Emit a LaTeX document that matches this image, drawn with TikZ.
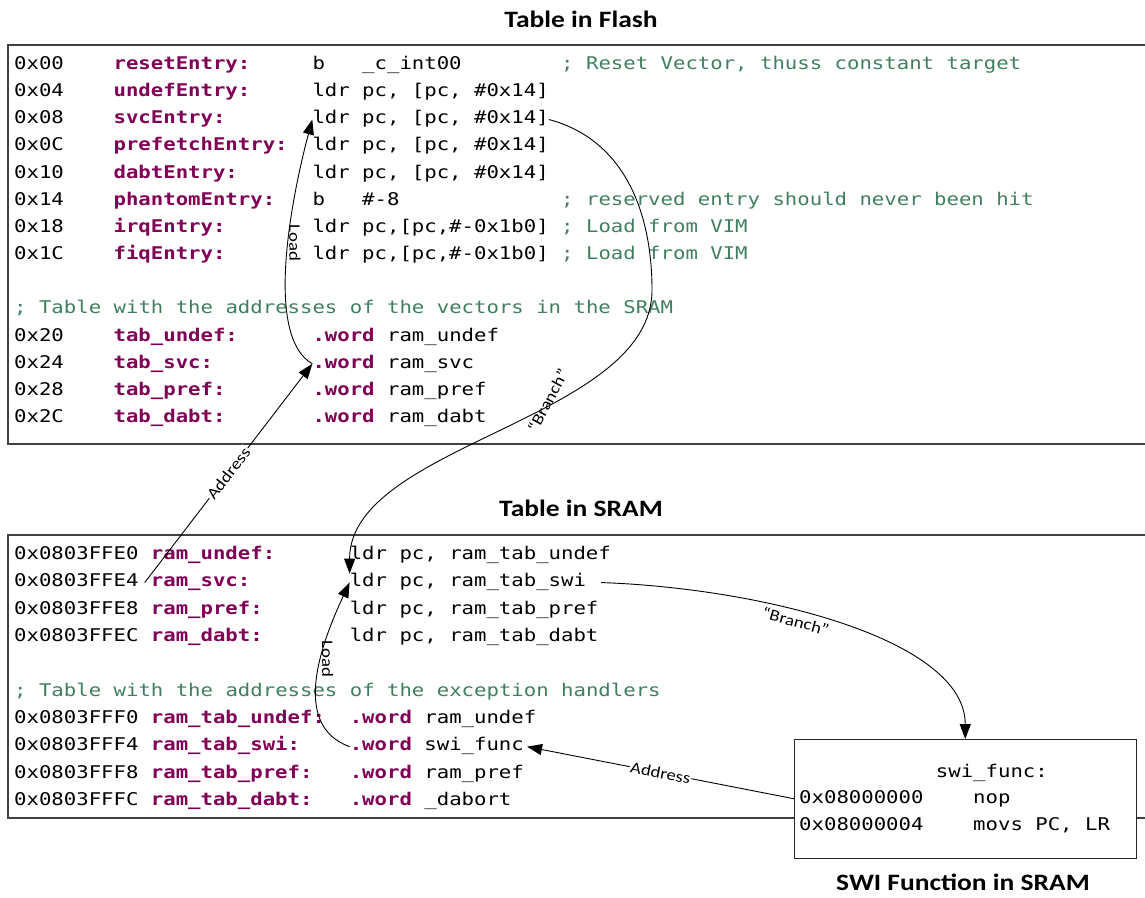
\documentclass[tikz,border=0pt]{standalone}
\usepackage{fontspec}
\usetikzlibrary{arrows.meta}
\newfontfamily\codefont[FakeStretch=1.18]{DejaVu Sans Mono}
\newfontfamily\labelfont[FakeStretch=1.17]{Carlito}
\definecolor{kwcol}{RGB}{127,0,85}
\definecolor{cmcol}{RGB}{63,127,95}
\newcommand{\kw}[1]{\textcolor{kwcol}{\bfseries #1}}

\begin{document}
\begin{tikzpicture}[x=1pt, y=1pt,
    frame/.style={draw=black!75, line width=1.1pt, inner sep=0pt},
    code/.style={anchor=base west, inner sep=0pt, text height=13pt, text depth=4.4pt,
      font=\codefont\frenchspacing\fontsize{17.5}{20}\selectfont},
    lbl/.style={code, text=kwcol, font=\codefont\frenchspacing\fontsize{17.5}{20}\selectfont\bfseries},
    cmt/.style={code, text=cmcol},
    title/.style={font=\labelfont\fontsize{23.5}{28}\selectfont\bfseries},
    conn/.style={line width=0.9pt, -{Triangle[length=15pt,width=11pt]}},
    lab/.style={font=\labelfont\fontsize{16}{19}\selectfont, inner sep=1pt}
  ]
  \useasboundingbox (0,0) rectangle (1145,-897);

  \node[frame, minimum width=1144pt, minimum height=399pt] (flash) at (580,-244.5) {};
  \node[frame, minimum width=1144pt, minimum height=283pt] (sram) at (580,-676.5) {};
  \node[title] (tflash) at (581,-19) {Table in Flash};
  \node[title] (tsram) at (581,-508) {Table in SRAM};
  \node[title] (tswi) at (963,-882) {SWI Function in SRAM};

  % table in flash
  \foreach \a/\l/\i [count=\k from 0] in {
      0x00/resetEntry:/{b~~~\_c\_int00},
      0x04/undefEntry:/{ldr pc, [pc, \#0x14]},
      0x08/svcEntry:/{ldr pc, [pc, \#0x14]},
      0x0C/prefetchEntry:/{ldr pc, [pc, \#0x14]},
      0x10/dabtEntry:/{ldr pc, [pc, \#0x14]},
      0x14/phantomEntry:/{b~~~\#-8},
      0x18/irqEntry:/{ldr pc,[pc,\#-0x1b0]},
      0x1C/fiqEntry:/{ldr pc,[pc,\#-0x1b0]}} {
    \node[code] (fa\k) at (14,{-69.5-27.15*\k}) {\a};
    \node[lbl] (fl\k) at (113.4,{-69.5-27.15*\k}) {\l};
    \node[code] (fi\k) at (312.3,{-69.5-27.15*\k}) {\i};
  }
  \foreach \k/\c in {0/{; Reset Vector, thuss constant target},
      5/{; reserved entry should never been hit},
      6/{; Load from VIM}, 7/{; Load from VIM}} {
    \node[cmt] (fc\k) at (561,{-69.5-27.15*\k}) {\c};
  }
  \node[cmt] (fc9) at (14,{-69.5-27.15*9}) {; Table with the addresses of the vectors in the SRAM};
  \foreach \a/\l/\i [count=\k from 10] in {
      0x20/tab\_undef:/{\kw{.word} ram\_undef},
      0x24/tab\_svc:/{\kw{.word} ram\_svc},
      0x28/tab\_pref:/{\kw{.word} ram\_pref},
      0x2C/tab\_dabt:/{\kw{.word} ram\_dabt}} {
    \node[code] (fa\k) at (14,{-69.5-27.15*\k}) {\a};
    \node[lbl] (fl\k) at (113.4,{-69.5-27.15*\k}) {\l};
    \node[code] (fi\k) at (312.3,{-69.5-27.15*\k}) {\i};
  }

  % table in sram
  \foreach \a/\l/\i [count=\k from 0] in {
      0x0803FFE0/ram\_undef:/{ldr pc, ram\_tab\_undef},
      0x0803FFE4/ram\_svc:/{ldr pc, ram\_tab\_swi},
      0x0803FFE8/ram\_pref:/{ldr pc, ram\_tab\_pref},
      0x0803FFEC/ram\_dabt:/{ldr pc, ram\_tab\_dabt}} {
    \node[code] (sa\k) at (14,{-559.5-27.35*\k}) {\a};
    \node[lbl] (sl\k) at (150.7,{-559.5-27.35*\k}) {\l};
    \node[code] (si\k) at (349.6,{-559.5-27.35*\k}) {\i};
  }
  \node[cmt] (sc5) at (14,{-559.5-27.35*5}) {; Table with the addresses of the exception handlers};
  \foreach \a/\l/\i [count=\k from 6] in {
      0x0803FFF0/ram\_tab\_undef:/{\kw{.word} ram\_undef},
      0x0803FFF4/ram\_tab\_swi:/{\kw{.word} swi\_func},
      0x0803FFF8/ram\_tab\_pref:/{\kw{.word} ram\_pref},
      0x0803FFFC/ram\_tab\_dabt:/{\kw{.word} \_dabort}} {
    \node[code] (sa\k) at (14,{-559.5-27.35*\k}) {\a};
    \node[lbl] (sl\k) at (150.7,{-559.5-27.35*\k}) {\l};
    \node[code] (si\k) at (349.6,{-559.5-27.35*\k}) {\i};
  }

  % swi function
  \node[draw=black!85, line width=0.9pt, fill=white, minimum width=341.5pt,
    minimum height=118.5pt, inner sep=0pt] (swi) at (965.25,-798.75) {};
  \node[code] (wf) at (935.7,-777) {swi\_func:};
  \node[code] (wa1) at (799,-803.7) {0x08000000};
  \node[code] (wi1) at (973,-803.7) {nop};
  \node[code] (wa2) at (799,-830.4) {0x08000004};
  \node[code] (wi2) at (973,-830.4) {movs PC, LR};

  \coordinate (bend) at (652,-290);
  \draw[conn] (fi11.west) to[out=150, in=-105, out distance=60pt, in distance=60pt]
    node[pos=0.53, rotate=-90, anchor=south, lab] {Load} (fi2.west);
  \draw[conn] ([xshift=-6pt]sl1.west) -- node[lab, sloped, fill=white] {Address} (fi11.west);
  \draw[conn] (fi2.east) to[out=-15, in=90] (bend) to[out=-90, in=90, looseness=0.8]
    node[pos=0.38, rotate=62, anchor=south, lab] {“Branch”} (si1.north west);

  \draw[conn] (si7.west) to[out=160, in=-115, out distance=64pt, in distance=64pt]
    node[pos=0.6, rotate=-90, anchor=south, lab] {Load} (si1.west);
  \draw[conn] (swi.west) -- node[lab, sloped, fill=white] {Address} ([xshift=3pt]si7.east);
  \draw[conn] ([xshift=15pt]si1.east) to[out=-2, in=90, out distance=160pt, in distance=100pt]
    node[pos=0.4, sloped, below=3pt, lab] {“Branch”} (swi.north);
\end{tikzpicture}
\end{document}
